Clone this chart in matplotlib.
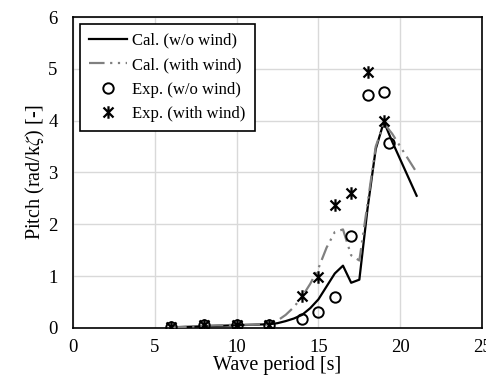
import matplotlib
matplotlib.use("Agg")
import matplotlib.pyplot as plt
from matplotlib.path import Path

plt.rcParams['font.family'] = ['Liberation Serif', 'DejaVu Serif']
plt.rcParams['mathtext.fontset'] = 'stix'

# Calculation curves
T_cal = [6, 7, 8, 9, 10, 11, 12, 12.5, 13, 13.5, 14, 14.5, 15, 15.5, 16, 16.5,
         17, 17.5, 18, 18.5, 19, 19.5, 20, 20.5, 21]
cal_wo = [0.01, 0.02, 0.03, 0.04, 0.05, 0.06, 0.07, 0.09, 0.13, 0.18, 0.25, 0.38,
          0.55, 0.8, 1.05, 1.2, 0.87, 0.93, 2.3, 3.45, 3.98, 3.6, 3.25, 2.9, 2.55]
cal_w = [0.01, 0.02, 0.04, 0.05, 0.06, 0.06, 0.08, 0.14, 0.25, 0.4, 0.6, 0.85,
         1.15, 1.55, 1.85, 1.9, 1.4, 1.3, 2.4, 3.5, 3.95, 3.75, 3.5, 3.25, 3.0]

# Experiments
T_exp_wo = [6, 8, 10, 12, 14, 15, 16, 17, 18, 19, 19.3]
exp_wo = [0.02, 0.05, 0.06, 0.05, 0.17, 0.30, 0.60, 1.77, 4.49, 4.56, 3.57]
T_exp_w = [6, 8, 10, 12, 14, 15, 16, 17, 18, 19]
exp_w = [0.02, 0.05, 0.06, 0.05, 0.62, 0.99, 2.37, 2.60, 4.93, 3.99]

labels = ['Cal. (w/o wind)', 'Cal. (with wind)', 'Exp. (w/o wind)', 'Exp. (with wind)']

# Excel-like star marker: X plus vertical bar
star = Path([(-1, -1), (1, 1), (-1, 1), (1, -1), (0, -1.25), (0, 1.25)],
            [Path.MOVETO, Path.LINETO, Path.MOVETO, Path.LINETO, Path.MOVETO, Path.LINETO])

fig = plt.figure(figsize=(4.86, 3.79), dpi=100)
ax = fig.add_axes([0.150, 0.135, 0.842, 0.820])

ax.plot(T_cal, cal_wo, color='black', lw=1.6, label=labels[0], zorder=3)
ax.plot(T_cal, cal_w, color='#808080', lw=1.6, dashes=(7, 2.5, 1, 2.5, 1, 2.5),
        label=labels[1], zorder=3)
ax.plot(T_exp_wo, exp_wo, linestyle='none', marker='o', markersize=7.5,
        markerfacecolor='none', markeredgecolor='black', markeredgewidth=1.4,
        label=labels[2], zorder=4)
ax.plot(T_exp_w, exp_w, linestyle='none', marker=star, markersize=9,
        markerfacecolor='none', markeredgecolor='black', markeredgewidth=1.6,
        label=labels[3], zorder=4)

ax.set_xlim(0, 25)
ax.set_ylim(0, 6)
ax.set_xticks([0, 5, 10, 15, 20, 25])
ax.set_yticks([0, 1, 2, 3, 4, 5, 6])
ax.grid(True, color='#d9d9d9', lw=1.0)
ax.set_axisbelow(True)
for s in ax.spines.values():
    s.set_color('black')
    s.set_linewidth(1.2)
ax.tick_params(axis='x', length=0, labelsize=13.5, pad=8)
ax.tick_params(axis='y', length=0, labelsize=13.5, pad=11)
ax.set_xlabel('Wave period [s]', fontsize=14.5, labelpad=0)
ax.set_ylabel('Pitch (rad/k$\\zeta$) [-]', fontsize=14.5, labelpad=1)

leg = ax.legend(loc='upper left', fontsize=12, frameon=True, fancybox=False,
                edgecolor='black', framealpha=1, borderpad=0.55, labelspacing=0.5,
                handlelength=2.3, handletextpad=0.3, borderaxespad=0.4)
leg.get_frame().set_linewidth(1.2)

fig.savefig('out.png', dpi=100)
